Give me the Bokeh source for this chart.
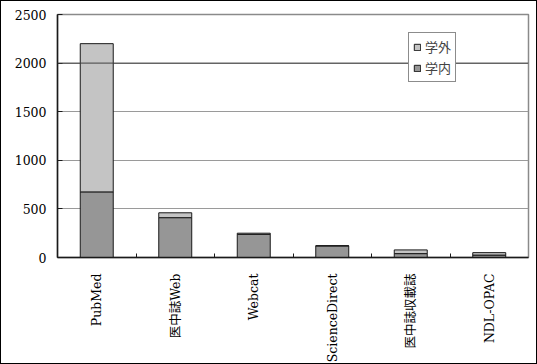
import math
from bokeh.plotting import figure
from bokeh.models import (ColumnDataSource, Range1d, FixedTicker, Legend, LegendItem, Span)
from bokeh.embed import file_html
from bokeh.resources import INLINE

categories = ["PubMed", "医中誌Web", "Webcat", "ScienceDirect", "医中誌収載誌", "NDL-OPAC"]
inside = [675, 410, 238, 120, 40, 25]      # 学内
outside = [1525, 50, 12, 0, 38, 25]        # 学外
y_ticks = [0, 500, 1000, 1500, 2000, 2500]
series_names = ["学内", "学外"]

xpos = [i + 0.5 for i in range(len(categories))]
src = ColumnDataSource(dict(x=xpos, inside=inside, outside=outside))

p = figure(width=537, height=364, output_backend="svg", toolbar_location=None,
           x_range=Range1d(0, len(categories)), y_range=Range1d(0, 2500),
           min_border_left=56, min_border_right=10, min_border_top=13,
           min_border_bottom=106)
p.styles = {"border": "1px solid black", "box-sizing": "border-box"}

rs = p.vbar_stack(["inside", "outside"], x="x", width=0.42, source=src,
                  fill_color=["#969696", "#c4c4c4"], line_color="#1a1a1a",
                  line_width=1)

font_lat = "DejaVu Serif, Noto Sans CJK JP"

xa = p.xaxis[0]
xa.ticker = FixedTicker(ticks=xpos, minor_ticks=[float(i) for i in range(1, len(categories))])
xa.major_label_overrides = {x: c for x, c in zip(xpos, categories)}
xa.major_tick_line_color = None
xa.minor_tick_in = 4
xa.minor_tick_out = 0
xa.minor_tick_line_color = "#1a1a1a"
xa.major_label_orientation = math.pi / 2
xa.major_label_standoff = 10
xa.major_label_text_font = font_lat
xa.major_label_text_font_size = "12.5px"
xa.major_label_text_color = "black"
xa.axis_line_color = "#1a1a1a"
xa.axis_line_width = 1.5

ya = p.yaxis[0]
ya.ticker = FixedTicker(ticks=y_ticks)
ya.major_tick_in = 5
ya.major_tick_out = 0
ya.minor_tick_line_color = None
ya.major_tick_line_color = "#1a1a1a"
ya.major_label_standoff = 11
ya.major_label_text_font = font_lat
ya.major_label_text_font_size = "12.5px"
ya.major_label_text_color = "black"
ya.axis_line_color = "#1a1a1a"
ya.axis_line_width = 1.5

p.xgrid.grid_line_color = None
p.ygrid.grid_line_color = "#9a9a9a"
p.ygrid.grid_line_width = 1
p.add_layout(Span(location=2000, dimension="width", line_color="#404040", line_width=1))

p.outline_line_color = "#8a8a8a"
p.outline_line_width = 1.5

legend = Legend(items=[LegendItem(label=series_names[1], renderers=[rs[1]]),
                       LegendItem(label=series_names[0], renderers=[rs[0]])],
                location=(351, 175), orientation="vertical",
                glyph_width=8, glyph_height=8, label_standoff=4,
                label_height=16, spacing=2, padding=4, margin=0,
                label_text_font="Noto Sans CJK JP", label_text_font_size="13px",
                border_line_color="#1a1a1a", border_line_width=1,
                background_fill_color="white", background_fill_alpha=1)
p.add_layout(legend, "center")

open("out.html", "w").write(file_html(p, INLINE))
